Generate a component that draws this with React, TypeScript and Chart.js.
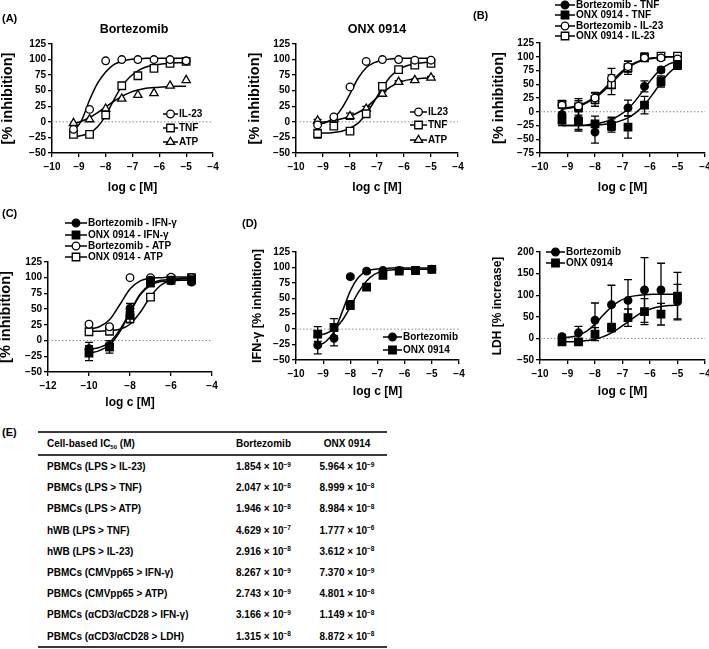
import React, { useEffect, useRef } from "react";
import { Chart, registerables } from "chart.js";

Chart.register(...registerables);

const FONT = '"Liberation Sans", Arial, Helvetica, sans-serif';

// ---------------- data ----------------
const X_LOG = [-9.2, -8.6, -8.0, -7.4, -6.8, -6.2, -5.6, -5.0];
const X_FIT = [-9.2, -8.9, -8.6, -8.3, -8.0, -7.7, -7.4, -7.1, -6.8, -6.5, -6.2, -5.9, -5.6, -5.3, -5.0];
const X_LOG_C = [-10, -9, -8, -7, -6, -5];
const X_FIT_C = [-10, -9.5, -9, -8.5, -8, -7.5, -7, -6.5, -6, -5.5, -5];

// Panel A – Bortezomib
const A_BORT_IL23 = [-12, 20, 98, 100, 100, 100, 100, 98];
const A_BORT_TNF = [-20, -20, 11, 58, 74, 86, 94, 97];
const A_BORT_ATP = [-2, 4, 21, 37, 43, 46, 58, 67];
const A_BORT_IL23_FIT = [-15, 2, 35, 62, 80, 92, 97, 100, 101, 102, 102, 102, 102, 102, 102];
const A_BORT_TNF_FIT = [-24, -22, -18, -8, 10, 35, 57, 72, 82, 88, 91, 93, 94, 95, 95];
const A_BORT_ATP_FIT = [-3, 1, 7, 15, 24, 33, 41, 47, 51, 54, 55, 56, 56.5, 57, 57];

// Panel A – ONX 0914
const A_ONX_IL23 = [-5, 8, 56, 97, 100, 100, 99, 99];
const A_ONX_TNF = [-19, -7, -15, 13, 57, 84, 91, 94];
const A_ONX_TNF_ERR = [7, 3, 3, 3, 3, 2, 2, 2];
const A_ONX_ATP = [2, 5, 9, 21, 45, 64, 67, 71];
const A_ONX_ATP_ERR = [2, 2, 5, 4, 3, 2, 2, 2];
const A_ONX_IL23_FIT = [-4, -1, 6, 22, 45, 70, 87, 95, 99, 101, 102, 102, 102, 102, 102];
const A_ONX_TNF_FIT = [-18, -18, -17, -15, -10, -2, 13, 33, 55, 73, 84, 90, 93, 95, 96];
const A_ONX_ATP_FIT = [-1, 0, 2, 5, 9, 15, 23, 35, 46, 56, 63, 67, 69, 70, 71];

// Panel B
const B_BORT_TNF = [-5, -14, -37, -22, 7, 46, 76, 86];
const B_BORT_TNF_ERR = [12, 18, 20, 12, 14, 10, 5, 6];
const B_ONX_TNF = [-15, -17, -22, -25, -28, 12, 55, 85];
const B_ONX_TNF_ERR = [10, 18, 14, 12, 20, 16, 10, 8];
const B_BORT_IL23 = [12, 10, 25, 61, 82, 98, 98, 96];
const B_BORT_IL23_ERR = [6, 10, 10, 18, 10, 5, 4, 4];
const B_ONX_IL23 = [14, 9, 22, 49, 80, 99, 101, 101];
const B_ONX_IL23_ERR = [6, 15, 12, 18, 12, 8, 4, 4];
const B_BORT_TNF_FIT = [-25, -25, -25, -24, -22, -19, -14, -6, 5, 22, 42, 62, 77, 87, 92];
const B_ONX_TNF_FIT = [-25, -25, -25, -25, -24, -23, -21, -17, -11, -1, 13, 32, 53, 71, 84];
const B_BORT_IL23_FIT = [6, 8, 12, 18, 27, 40, 55, 70, 82, 90, 95, 97, 99, 100, 100];
const B_ONX_IL23_FIT = [5, 7, 10, 16, 25, 37, 52, 67, 80, 89, 95, 98, 99, 100, 100];

// Panel C
const C_BORT_IFN = [-13, -8, 51, 96, 95, 93];
const C_BORT_IFN_ERR = [10, 8, 8, 5, 4, 4];
const C_ONX_IFN = [-20, -10, 40, 92, 96, 97];
const C_ONX_IFN_ERR = [12, 10, 12, 6, 4, 4];
const C_BORT_ATP = [26, 22, 100, 100, 101, 100];
const C_BORT_ATP_ERR = [2, 2, 2, 2, 2, 2];
const C_ONX_ATP = [14, 15, 35, 69, 98, 100];
const C_ONX_ATP_ERR = [5, 6, 5, 5, 3, 3];
const C_BORT_IFN_FIT = [-14, -11, -3, 17, 45, 73, 88, 94, 95, 96, 96];
const C_ONX_IFN_FIT = [-20, -16, -7, 14, 45, 74, 90, 96, 97, 98, 98];
const C_BORT_ATP_FIT = [18, 22, 33, 57, 82, 95, 99, 100, 101, 101, 101];
const C_ONX_ATP_FIT = [15, 15, 16, 18, 26, 45, 70, 88, 96, 99, 100];

// Panel D – IFN-γ
const D_BORT = [-26, -15, 85, 94, 95, 95, 95, 97];
const D_BORT_ERR = [14, 12, 3, 3, 3, 3, 3, 3];
const D_ONX = [-8, 3, 39, 68, 87, 94, 95, 97];
const D_ONX_ERR = [12, 14, 7, 5, 4, 3, 3, 3];
const D_BORT_FIT = [-27, -20, -4, 28, 62, 84, 94, 97, 98, 99, 99, 99, 99, 99, 99];
const D_ONX_FIT = [-10, -7, 0, 14, 36, 60, 78, 89, 94, 96, 97, 97, 97, 97, 97];

// Panel D – LDH
const L_BORT = [4, 13, 42, 78, 88, 112, 112, 85];
const L_BORT_ERR = [5, 15, 40, 45, 48, 75, 62, 40];
const L_ONX = [-8, -8, 10, 25, 48, 62, 56, 98];
const L_ONX_ERR = [5, 5, 15, 10, 20, 30, 25, 55];
const L_BORT_FIT = [1, 3, 8, 17, 33, 54, 73, 87, 95, 99, 101, 102, 102, 102, 102];
const L_ONX_FIT = [-8, -8, -7, -5, -2, 4, 13, 25, 38, 52, 63, 70, 74, 76, 77];

// Panel E – table
const TABLE_ROWS = [
  "PBMCs (LPS > IL-23)",
  "PBMCs (LPS > TNF)",
  "PBMCs (LPS > ATP)",
  "hWB (LPS > TNF)",
  "hWB (LPS > IL-23)",
  "PBMCs (CMVpp65 > IFN-\u03b3)",
  "PBMCs (CMVpp65 > ATP)",
  "PBMCs (\u03b1CD3/\u03b1CD28 > IFN-\u03b3)",
  "PBMCs (\u03b1CD3/\u03b1CD28 > LDH)",
];
const BORT_MANT = ["1.854", "2.047", "1.946", "4.629", "2.916", "8.267", "2.743", "3.166", "1.315"];
const BORT_EXP = [-9, -8, -8, -7, -8, -9, -9, -9, -8];
const ONX_MANT = ["5.964", "8.999", "8.984", "1.777", "3.612", "7.370", "4.801", "1.149", "8.872"];
const ONX_EXP = [-9, -8, -8, -6, -8, -9, -8, -8, -8];

// ---------------- chart machinery ----------------
type Shape = "circle" | "rect" | "triangle";
interface Series {
  label: string;
  x: number[];
  y: number[];
  err?: number[];
  fitX: number[];
  fitY: number[];
  shape: Shape;
  filled: boolean;
}
interface Panel {
  L: number; T: number; R: number; B: number;
  xMin: number; xMax: number; xStep: number;
  yMin: number; yMax: number; yStep: number;
  yTitle: string; yTitleSize: number; yTitleOff: number;
  xTitleOff: number;
  legend: { x1: number; x2: number; rows: number[] };
  series: Series[];
}

const RADIUS: Record<Shape, number> = { circle: 3.8, rect: 5.3, triangle: 4.8 };
const YW = 52; // y axis box width
const XH = 45; // x axis box height
const PT = 48; // top padding
const PR = 12; // right padding

function drawMarker(ctx: CanvasRenderingContext2D, shape: Shape, filled: boolean, x: number, y: number) {
  const r = RADIUS[shape];
  ctx.save();
  ctx.beginPath();
  if (shape === "circle") ctx.arc(x, y, r, 0, Math.PI * 2);
  else if (shape === "rect") {
    const s = r * Math.SQRT1_2;
    ctx.rect(x - s, y - s, 2 * s, 2 * s);
  } else {
    ctx.moveTo(x, y - r);
    ctx.lineTo(x + r * 0.866, y + r * 0.5);
    ctx.lineTo(x - r * 0.866, y + r * 0.5);
    ctx.closePath();
  }
  ctx.fillStyle = filled ? "#000" : "#fff";
  ctx.fill();
  ctx.lineWidth = 1.3;
  ctx.strokeStyle = "#000";
  ctx.stroke();
  ctx.restore();
}

const fmt = (v: number) => (v < 0 ? "\u2212" + Math.abs(v) : String(v));

function makeOverlay(p: Panel) {
  return {
    id: "overlay",
    beforeDatasetsDraw(chart: any) {
      const { ctx, chartArea, scales } = chart;
      const y0 = scales.y.getPixelForValue(0);
      ctx.save();
      ctx.strokeStyle = "#8a8a8a";
      ctx.lineWidth = 1;
      ctx.setLineDash([1.5, 2]);
      ctx.beginPath();
      ctx.moveTo(chartArea.left, y0);
      ctx.lineTo(chartArea.right, y0);
      ctx.stroke();
      ctx.restore();
    },
    beforeDatasetDraw(chart: any, args: any) {
      const ds = chart.data.datasets[args.index];
      if (!ds.errors) return;
      const meta = chart.getDatasetMeta(args.index);
      const ys = chart.scales.y;
      const ctx = chart.ctx;
      ctx.save();
      ctx.strokeStyle = "#000";
      ctx.lineWidth = 1.3;
      ds.data.forEach((pt: any, j: number) => {
        const e = ds.errors[j];
        if (!e) return;
        const px = meta.data[j].x;
        const t = ys.getPixelForValue(pt.y + e);
        const b = ys.getPixelForValue(pt.y - e);
        ctx.beginPath();
        ctx.moveTo(px, t);
        ctx.lineTo(px, b);
        ctx.moveTo(px - 4, t);
        ctx.lineTo(px + 4, t);
        ctx.moveTo(px - 4, b);
        ctx.lineTo(px + 4, b);
        ctx.stroke();
      });
      ctx.restore();
    },
    afterDraw(chart: any) {
      const { ctx, chartArea } = chart;
      const lg = p.legend;
      p.series.forEach((s, i) => {
        const y = chartArea.top + lg.rows[i];
        const x1 = chartArea.left + lg.x1;
        const x2 = chartArea.left + lg.x2;
        ctx.save();
        ctx.strokeStyle = "#000";
        ctx.lineWidth = 1.5;
        ctx.beginPath();
        ctx.moveTo(x1, y);
        ctx.lineTo(x2, y);
        ctx.stroke();
        ctx.restore();
        drawMarker(ctx, s.shape, s.filled, (x1 + x2) / 2, y);
        ctx.save();
        ctx.fillStyle = "#000";
        ctx.font = `bold 10px ${FONT}`;
        ctx.textBaseline = "middle";
        ctx.textAlign = "left";
        ctx.fillText(s.label, x2 + 1, y + 0.5);
        ctx.restore();
      });
    },
  };
}

function buildConfig(p: Panel): any {
  const fits = p.series.map((s) => ({
    data: s.fitX.map((x, i) => ({ x, y: s.fitY[i] })),
    showLine: true,
    borderColor: "#000",
    borderWidth: 1.5,
    pointRadius: 0,
    cubicInterpolationMode: "monotone",
    fill: false,
    order: 2,
  }));
  const pts = p.series.map((s) => ({
    data: s.x.map((x, i) => ({ x, y: s.y[i] })),
    errors: s.err,
    showLine: false,
    pointStyle: s.shape,
    pointRadius: RADIUS[s.shape],
    pointBackgroundColor: s.filled ? "#000" : "#fff",
    pointBorderColor: "#000",
    pointBorderWidth: 1.3,
    order: 1,
  }));
  const tickFont = { family: FONT, size: 10, weight: "bold" as const };
  const xPadBottom = XH - p.xTitleOff - 6;
  const yPadTop = YW - p.yTitleOff - p.yTitleSize / 2;
  return {
    type: "line",
    data: { datasets: [...fits, ...pts] },
    options: {
      responsive: false,
      animation: false,
      events: [],
      devicePixelRatio: 1,
      layout: { padding: { top: PT, right: PR, left: 0, bottom: 0 } },
      plugins: { legend: { display: false }, tooltip: { enabled: false }, title: { display: false } },
      scales: {
        x: {
          type: "linear",
          min: p.xMin,
          max: p.xMax,
          ticks: { stepSize: p.xStep, callback: (v: number) => fmt(v), font: tickFont, color: "#000", padding: 4, maxRotation: 0, autoSkip: false },
          grid: { drawOnChartArea: false, drawTicks: true, tickLength: 4, color: "#000", lineWidth: 1.3 },
          border: { display: true, color: "#000", width: 1.5 },
          title: { display: true, text: "log c [M]", color: "#000", font: { family: FONT, size: 12, weight: "bold", lineHeight: 1 }, padding: { top: 0, bottom: xPadBottom } },
          afterFit: (s: any) => { s.height = XH; },
        },
        y: {
          type: "linear",
          min: p.yMin,
          max: p.yMax,
          ticks: { stepSize: p.yStep, callback: (v: number) => fmt(v), font: tickFont, color: "#000", padding: 2, autoSkip: false },
          grid: { drawOnChartArea: false, drawTicks: true, tickLength: 4, color: "#000", lineWidth: 1.3 },
          border: { display: true, color: "#000", width: 1.5 },
          title: { display: true, text: p.yTitle, color: "#000", font: { family: FONT, size: p.yTitleSize, weight: "bold", lineHeight: 1 }, padding: { top: yPadTop, bottom: 0 } },
          afterFit: (s: any) => { s.width = YW; },
        },
      },
    },
    plugins: [makeOverlay(p)],
  };
}

// ---------------- panels ----------------
const PANELS: Panel[] = [
  {
    L: 52, T: 44, R: 213, B: 153,
    xMin: -10, xMax: -4, xStep: 1, yMin: -50, yMax: 125, yStep: 25,
    yTitle: "[% inhibition]", yTitleSize: 14.5, yTitleOff: 44, xTitleOff: 35,
    legend: { x1: 111, x2: 126, rows: [70, 84, 98] },
    series: [
      { label: "IL-23", x: X_LOG, y: A_BORT_IL23, fitX: X_FIT, fitY: A_BORT_IL23_FIT, shape: "circle", filled: false },
      { label: "TNF", x: X_LOG, y: A_BORT_TNF, fitX: X_FIT, fitY: A_BORT_TNF_FIT, shape: "rect", filled: false },
      { label: "ATP", x: X_LOG, y: A_BORT_ATP, fitX: X_FIT, fitY: A_BORT_ATP_FIT, shape: "triangle", filled: false },
    ],
  },
  {
    L: 296, T: 44, R: 458, B: 153,
    xMin: -10, xMax: -4, xStep: 1, yMin: -50, yMax: 125, yStep: 25,
    yTitle: "[% inhibition]", yTitleSize: 14.5, yTitleOff: 41, xTitleOff: 35,
    legend: { x1: 114, x2: 131, rows: [68, 81, 96] },
    series: [
      { label: "IL23", x: X_LOG, y: A_ONX_IL23, fitX: X_FIT, fitY: A_ONX_IL23_FIT, shape: "circle", filled: false },
      { label: "TNF", x: X_LOG, y: A_ONX_TNF, err: A_ONX_TNF_ERR, fitX: X_FIT, fitY: A_ONX_TNF_FIT, shape: "rect", filled: false },
      { label: "ATP", x: X_LOG, y: A_ONX_ATP, err: A_ONX_ATP_ERR, fitX: X_FIT, fitY: A_ONX_ATP_FIT, shape: "triangle", filled: false },
    ],
  },
  {
    L: 540, T: 43, R: 705, B: 153,
    xMin: -10, xMax: -4, xStep: 1, yMin: -75, yMax: 125, yStep: 25,
    yTitle: "[% inhibition]", yTitleSize: 14.5, yTitleOff: 41, xTitleOff: 35,
    legend: { x1: 15, x2: 35, rows: [-38, -28, -17, -7] },
    series: [
      { label: "Bortezomib - TNF", x: X_LOG, y: B_BORT_TNF, err: B_BORT_TNF_ERR, fitX: X_FIT, fitY: B_BORT_TNF_FIT, shape: "circle", filled: true },
      { label: "ONX 0914 - TNF", x: X_LOG, y: B_ONX_TNF, err: B_ONX_TNF_ERR, fitX: X_FIT, fitY: B_ONX_TNF_FIT, shape: "rect", filled: true },
      { label: "Bortezomib - IL-23", x: X_LOG, y: B_BORT_IL23, err: B_BORT_IL23_ERR, fitX: X_FIT, fitY: B_BORT_IL23_FIT, shape: "circle", filled: false },
      { label: "ONX 0914 - IL-23", x: X_LOG, y: B_ONX_IL23, err: B_ONX_IL23_ERR, fitX: X_FIT, fitY: B_ONX_IL23_FIT, shape: "rect", filled: false },
    ],
  },
  {
    L: 48, T: 262, R: 212, B: 372,
    xMin: -12, xMax: -4, xStep: 2, yMin: -50, yMax: 125, yStep: 25,
    yTitle: "[% inhibition]", yTitleSize: 14.5, yTitleOff: 42, xTitleOff: 31,
    legend: { x1: 17, x2: 39, rows: [-39, -27, -16, -5] },
    series: [
      { label: "Bortezomib - IFN-\u03b3", x: X_LOG_C, y: C_BORT_IFN, err: C_BORT_IFN_ERR, fitX: X_FIT_C, fitY: C_BORT_IFN_FIT, shape: "circle", filled: true },
      { label: "ONX 0914 - IFN-\u03b3", x: X_LOG_C, y: C_ONX_IFN, err: C_ONX_IFN_ERR, fitX: X_FIT_C, fitY: C_ONX_IFN_FIT, shape: "rect", filled: true },
      { label: "Bortezomib - ATP", x: X_LOG_C, y: C_BORT_ATP, err: C_BORT_ATP_ERR, fitX: X_FIT_C, fitY: C_BORT_ATP_FIT, shape: "circle", filled: false },
      { label: "ONX 0914 - ATP", x: X_LOG_C, y: C_ONX_ATP, err: C_ONX_ATP_ERR, fitX: X_FIT_C, fitY: C_ONX_ATP_FIT, shape: "rect", filled: false },
    ],
  },
  {
    L: 296, T: 252, R: 459, B: 360,
    xMin: -10, xMax: -4, xStep: 1, yMin: -50, yMax: 125, yStep: 25,
    yTitle: "IFN-\u03b3 [% inhibition]", yTitleSize: 12.5, yTitleOff: 38, xTitleOff: 32,
    legend: { x1: 87, x2: 106, rows: [85, 98] },
    series: [
      { label: "Bortezomib", x: X_LOG, y: D_BORT, err: D_BORT_ERR, fitX: X_FIT, fitY: D_BORT_FIT, shape: "circle", filled: true },
      { label: "ONX 0914", x: X_LOG, y: D_ONX, err: D_ONX_ERR, fitX: X_FIT, fitY: D_ONX_FIT, shape: "rect", filled: true },
    ],
  },
  {
    L: 540, T: 252, R: 705, B: 360,
    xMin: -10, xMax: -4, xStep: 1, yMin: -50, yMax: 200, yStep: 50,
    yTitle: "LDH [% increase]", yTitleSize: 12, yTitleOff: 42, xTitleOff: 32,
    legend: { x1: 6, x2: 25, rows: [0, 11] },
    series: [
      { label: "Bortezomib", x: X_LOG, y: L_BORT, err: L_BORT_ERR, fitX: X_FIT, fitY: L_BORT_FIT, shape: "circle", filled: true },
      { label: "ONX 0914", x: X_LOG, y: L_ONX, err: L_ONX_ERR, fitX: X_FIT, fitY: L_ONX_FIT, shape: "rect", filled: true },
    ],
  },
];

function ChartPanel({ p }: { p: Panel }) {
  const ref = useRef<HTMLCanvasElement>(null);
  const left = p.L - YW;
  const top = p.T - PT;
  const w = p.R - p.L + YW + PR;
  const h = PT + (p.B - p.T) + XH;
  useEffect(() => {
    if (!ref.current) return;
    const chart = new Chart(ref.current, buildConfig(p));
    return () => chart.destroy();
  }, [p]);
  return <canvas ref={ref} width={w} height={h} style={{ position: "absolute", left, top, width: w, height: h }} />;
}

function Text({ x, y, children, size = 11, align = "left" }: any) {
  const tx = align === "center" ? "-50%" : "0";
  return (
    <div
      style={{
        position: "absolute",
        left: x,
        top: y,
        transform: `translate(${tx}, -50%)`,
        fontSize: size,
        fontWeight: "bold",
        lineHeight: 1,
        whiteSpace: "nowrap",
        color: "#000",
      }}
    >
      {children}
    </div>
  );
}

const Sci = ({ m, e }: { m: string; e: number }) => (
  <span>
    {m} {"\u00d7"} 10
    <sup style={{ fontSize: 6.5, verticalAlign: 0, position: "relative", top: -3.5 }}>{"\u2212" + Math.abs(e)}</sup>
  </span>
);

function Table() {
  const LINE = "#3a3a3a";
  const rowTop = 456;
  const rowH = 21.2;
  const cell = (left: number, width: number, center: boolean, content: any, top: number, h: number) => (
    <div
      style={{
        position: "absolute",
        left,
        top,
        width,
        height: h,
        display: "flex",
        alignItems: "center",
        justifyContent: center ? "center" : "flex-start",
        fontSize: 10,
        fontWeight: "bold",
        whiteSpace: "nowrap",
      }}
    >
      {content}
    </div>
  );
  return (
    <div>
      <div style={{ position: "absolute", left: 38, top: 431, width: 349, height: 2, background: LINE }} />
      {cell(47, 175, false, <span>Cell-based IC<sub style={{ fontSize: 6, verticalAlign: 0, position: "relative", top: 2 }}>50</sub> (M)</span>, 433, 21)}
      {cell(222, 83, true, "Bortezomib", 433, 21)}
      {cell(305, 84, true, "ONX 0914", 433, 21)}
      <div style={{ position: "absolute", left: 38, top: 454, width: 349, height: 1.5, background: LINE }} />
      {TABLE_ROWS.map((r, i) => (
        <React.Fragment key={i}>
          {cell(47, 175, false, r, rowTop + i * rowH, rowH)}
          {cell(222, 83, true, <Sci m={BORT_MANT[i]} e={BORT_EXP[i]} />, rowTop + i * rowH, rowH)}
          {cell(305, 84, true, <Sci m={ONX_MANT[i]} e={ONX_EXP[i]} />, rowTop + i * rowH, rowH)}
        </React.Fragment>
      ))}
      <div style={{ position: "absolute", left: 38, top: rowTop + 9 * rowH - 1, width: 349, height: 2, background: LINE }} />
    </div>
  );
}

export default function App() {
  return (
    <div
      style={{
        position: "absolute",
        left: 0,
        top: 0,
        width: 709,
        height: 649,
        overflow: "hidden",
        background: "#fff",
        fontFamily: FONT,
        color: "#000",
      }}
    >
      {PANELS.map((p, i) => (
        <ChartPanel key={i} p={p} />
      ))}
      <Text x={2} y={18} size={11}>(A)</Text>
      <Text x={134} y={29} size={12.5} align="center">Bortezomib</Text>
      <Text x={377} y={29} size={12.5} align="center">ONX 0914</Text>
      <Text x={473} y={15} size={11}>(B)</Text>
      <Text x={2} y={213} size={11}>(C)</Text>
      <Text x={242} y={223} size={11}>(D)</Text>
      <Text x={2} y={432} size={11}>(E)</Text>
      <Table />
    </div>
  );
}
